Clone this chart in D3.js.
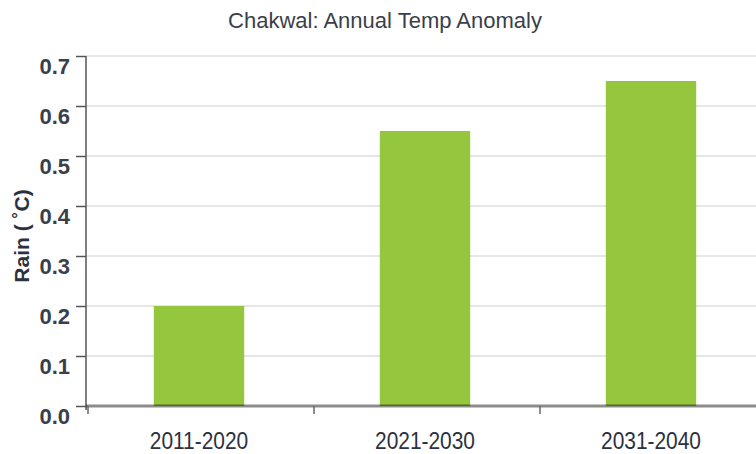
<!DOCTYPE html>
<html><head><meta charset="utf-8">
<script src="https://cdn.jsdelivr.net/npm/d3@7"></script>
<style>body{margin:0;background:#fff}svg{display:block}</style>
</head><body>
<svg id="c" width="756" height="454"></svg>
<script>
const categories = ["2011-2020", "2021-2030", "2031-2040"];
const values = [0.2, 0.55, 0.65];
const yTicks = [0, 0.1, 0.2, 0.3, 0.4, 0.5, 0.6, 0.7];
const title = "Chakwal: Annual Temp Anomaly";
const yLabel = "Rain ( \u02DAC)";

const svg = d3.select("#c");
const font = "'Liberation Sans', Arial, Helvetica, sans-serif";
const x = d3.scaleBand().domain(categories).range([86, 764]).padding(0);
const y = d3.scaleLinear().domain([0, 0.7]).range([406, 56]);

// gridlines
svg.append("g").selectAll("line").data(yTicks.slice(1)).join("line")
  .attr("x1", 86).attr("x2", 756)
  .attr("y1", d => y(d)).attr("y2", d => y(d))
  .attr("stroke", "#e6e6e6").attr("stroke-width", 2);

// bars
const bw = x.bandwidth() * 0.4;
svg.append("g").selectAll("rect").data(categories).join("rect")
  .attr("x", d => x(d) + (x.bandwidth() - bw) / 2)
  .attr("width", bw)
  .attr("y", (d, i) => y(values[i]))
  .attr("height", (d, i) => y(0) - y(values[i]))
  .attr("fill", "#94c63e");

// y axis
const yAxis = d3.axisLeft(y).tickValues(yTicks).tickFormat(d3.format(".1f")).tickSize(10).tickPadding(6);
const gy = svg.append("g").attr("transform", "translate(86,0)").call(yAxis);
gy.select(".domain").attr("stroke", "#555").attr("stroke-width", 1.5).attr("d", "M0,56V410");
gy.selectAll(".tick line").attr("stroke", "#555").attr("stroke-width", 1.5);
gy.selectAll(".tick text").attr("font-family", font).attr("font-size", 22).attr("font-weight", "bold")
  .attr("fill", "#3a3f4a").attr("dy", null).attr("y", 17);

// x axis
const xAxis = d3.axisBottom(x).tickSize(0).tickPadding(24);
const gx = svg.append("g").attr("transform", "translate(0,406)").call(xAxis);
gx.select(".domain").attr("stroke", "#000").attr("stroke-opacity", 0.45).attr("stroke-width", 3).attr("d", "M86,0H756");
gx.selectAll(".tick text").attr("font-family", font).attr("font-size", 23).attr("fill", "#2c3140")
  .attr("dy", null).attr("y", 43).attr("transform", "scale(0.91,1)");
// boundary ticks
svg.append("g").selectAll("line").data(categories).join("line")
  .attr("x1", d => x(d) + 2).attr("x2", d => x(d) + 2)
  .attr("y1", 406).attr("y2", 414)
  .attr("stroke", "#666").attr("stroke-width", 1.5);

// title
svg.append("text").attr("x", 385).attr("y", 28).attr("text-anchor", "middle")
  .attr("font-family", font).attr("font-size", 22).attr("fill", "#3a3f4a").text(title);

// y label
svg.append("text").attr("transform", "translate(29,236) rotate(-90)").attr("text-anchor", "middle")
  .attr("font-family", font).attr("font-size", 21).attr("font-weight", "bold").attr("fill", "#2c3140").text(yLabel);
</script>
</body></html>
